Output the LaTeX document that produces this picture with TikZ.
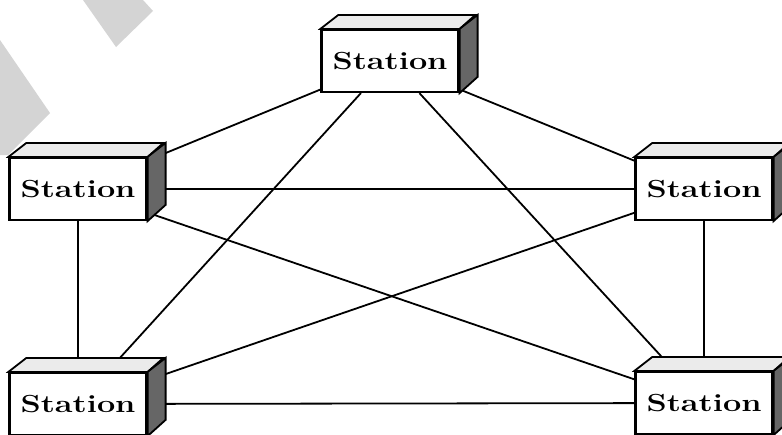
\documentclass[tikz,border=0pt]{standalone}
\usepackage{graphicx}
\usepackage{tikz}
\newcommand{\stn}{\scalebox{1.35}[1.03]{\fontsize{24}{24}\selectfont\bfseries Station}}

\begin{document}
\begin{tikzpicture}[x=1pt,y=-1pt,
  station/.style={rectangle,draw,line width=2.2pt,fill=white,minimum width=137pt,minimum height=62pt,inner sep=0pt},
  topface/.style={draw,line width=1.8pt,fill=black!8},
  sideface/.style={draw,line width=1.8pt,fill=black!60},
  link/.style={line width=1.8pt}]
  \clip (0,0) rectangle (782,434);
  \useasboundingbox (0,0) rectangle (782,434);
  % grey marks top left
  \fill[black!17] (83,0) -- (116,47) -- (153,11) -- (143,0) -- cycle;
  \fill[black!17] (0,40) -- (50,113) -- (8,155) -- (0,155) -- cycle;
  \node[station] (t)  at (390,61)  {\stn};
  \node[station] (l)  at (78,189)  {\stn};
  \node[station] (r)  at (704,189) {\stn};
  \node[station] (bl) at (78,404)  {\stn};
  \node[station] (br) at (704,403) {\stn};
  \draw[link] (t) -- (l);
  \draw[link] (t) -- (r);
  \draw[link] (t) -- (bl);
  \draw[link] (t) -- (br);
  \draw[link] (l) -- (r);
  \draw[link] (l) -- (bl);
  \draw[link] (l) -- (br);
  \draw[link] (r) -- (bl);
  \draw[link] (r) -- (br);
  \draw[link] (bl) -- (br);
  \foreach \n in {t,l,r,bl,br} {
    \draw[topface] (\n.north west) -- ++(18,-14) -- ++(137,0) -- (\n.north east) -- cycle;
    \draw[sideface] (\n.north east) -- ++(18,-14) -- ++(0,62) -- (\n.south east) -- cycle;
  }
\end{tikzpicture}
\end{document}
